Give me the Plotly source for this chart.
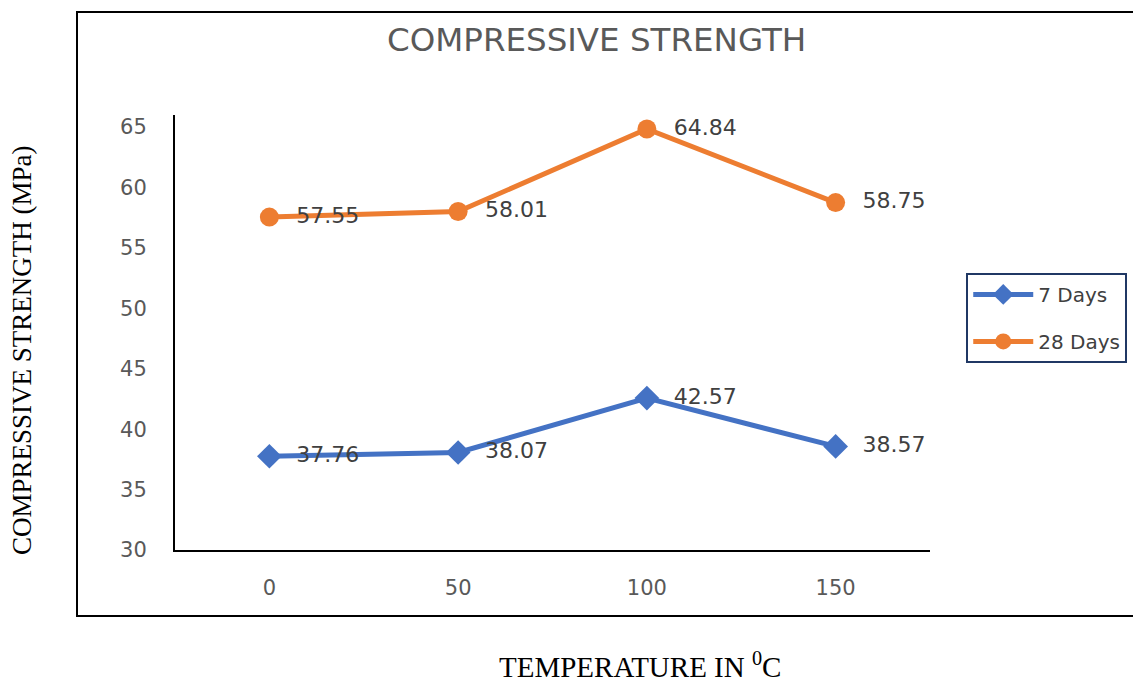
import plotly.graph_objects as go

categories = ["0", "50", "100", "150"]
days7 = [37.76, 38.07, 42.57, 38.57]
days28 = [57.55, 58.01, 64.84, 58.75]
y_ticks = [30, 35, 40, 45, 50, 55, 60, 65]

FONT = "DejaVu Sans"
PAD = "\u00a0\u00a0"
fig = go.Figure()
fig.add_trace(go.Scatter(
    x=categories, y=days7, name="7 Days", mode="lines+markers+text",
    legendgroup="a",
    text=[PAD + f"{v:.2f}" for v in days7], textposition="middle right",
    textfont=dict(family=FONT, size=22, color="#404040"),
    line=dict(color="#4472C4", width=5),
    marker=dict(symbol="diamond", size=19, color="#4472C4"),
    cliponaxis=False,
))
fig.add_trace(go.Scatter(
    x=categories, y=days28, name="28 Days", mode="lines+markers+text",
    legendgroup="b",
    text=[PAD + f"{v:.2f}" for v in days28], textposition="middle right",
    textfont=dict(family=FONT, size=22, color="#404040"),
    line=dict(color="#ED7D31", width=5),
    marker=dict(symbol="circle", size=19, color="#ED7D31"),
    cliponaxis=False,
))

fig.update_layout(
    width=1133, height=677,
    margin=dict(l=167, r=211, t=107, b=135),
    paper_bgcolor="white", plot_bgcolor="white",
    showlegend=True,
    legend=dict(
        x=1.048, y=0.637, xanchor="left", yanchor="top",
        bordercolor="#203864", borderwidth=2,
        font=dict(family=FONT, size=20, color="#404040"),
        itemwidth=60, traceorder="grouped", tracegroupgap=18,
        entrywidth=126,
    ),
    xaxis=dict(
        type="category", range=[-0.5, 3.5],
        showline=True, linecolor="black", linewidth=2,
        showgrid=False, zeroline=False, ticks="",
        tickfont=dict(family=FONT, size=21, color="#595959"),
        ticklabelstandoff=18,
    ),
    yaxis=dict(
        range=[30, 66], tickvals=y_ticks,
        showline=True, linecolor="black", linewidth=2,
        showgrid=False, zeroline=False, ticks="",
        tickfont=dict(family=FONT, size=21, color="#595959"),
        ticklabelstandoff=22,
    ),
    shapes=[dict(
        type="rect", xref="paper", yref="paper",
        x0=-0.1298, x1=1.30, y0=-0.1517, y1=1.2368,
        line=dict(color="black", width=2), fillcolor="rgba(0,0,0,0)",
        layer="below",
    )],
    annotations=[
        dict(text="COMPRESSIVE STRENGTH", xref="paper", yref="paper",
             x=(596 - 175) / 755, y=(550 - 40) / 435, showarrow=False,
             xanchor="center", yanchor="middle",
             font=dict(family=FONT, size=32.5, color="#595959")),
        dict(text="TEMPERATURE IN <sup>0</sup>C", xref="paper", yref="paper",
             x=(640 - 175) / 755, y=-135 / 435, showarrow=False,
             xanchor="center", yanchor="bottom",
             font=dict(family="Liberation Serif", size=29, color="black")),
        dict(text="COMPRESSIVE STRENGTH (MPa)", xref="paper", yref="paper",
             x=(22 - 175) / 755, y=(550 - 350) / 435, showarrow=False,
             xanchor="center", yanchor="middle", textangle=-90,
             font=dict(family="Liberation Serif", size=27, color="black")),
    ],
)

fig.write_html("out.html")
